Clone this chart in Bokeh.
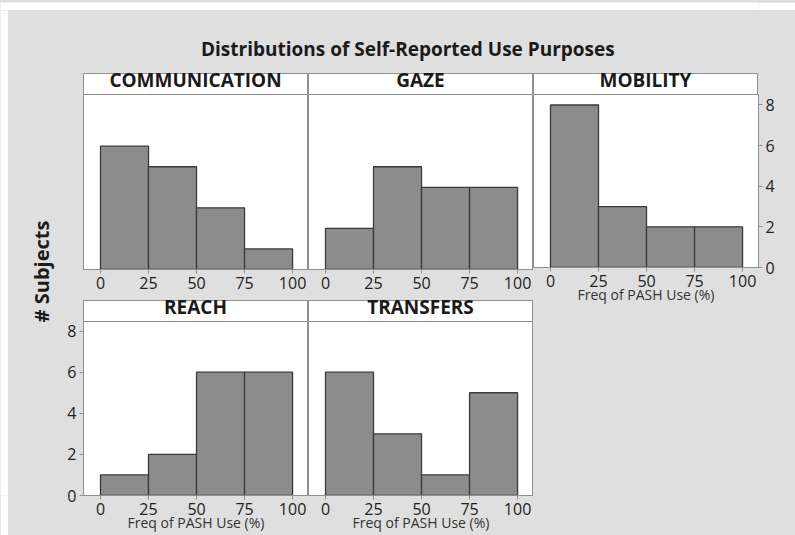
from bokeh.plotting import figure
from bokeh.models import Range1d, FixedTicker, Label, GridBox, Div
from bokeh.embed import file_html
from bokeh.resources import INLINE

# ---------------- data ----------------
bin_edges = [0, 25, 50, 75, 100]
x_ticks = [0, 25, 50, 75, 100]
y_ticks = [0, 2, 4, 6, 8]
panel_names = ["COMMUNICATION", "GAZE", "MOBILITY", "REACH", "TRANSFERS"]
communication = [6, 5, 3, 1]
gaze = [2, 5, 4, 4]
mobility = [8, 3, 2, 2]
reach = [1, 2, 6, 6]
transfers = [6, 3, 1, 5]
title_text = "Distributions of Self-Reported Use Purposes"
y_label = "# Subjects"
x_label = "Freq of PASH Use (%)"

# ---------------- style ----------------
BG = "#dfdfdf"
FRAME = "#8f8f8f"
BAR_FILL = "#8c8c8c"
BAR_LINE = "#3a3a3a"
TEXT = "#1a1a1a"
FONT = "Open Sans"

PX_Y = 20.55
X0, X1 = -8.85, 108.3
BASE_FIX = 7  # px correction for label baseline placement


def style_axis(ax, ticks):
    ax.ticker = FixedTicker(ticks=ticks)
    ax.axis_line_color = FRAME
    ax.major_tick_line_color = FRAME
    ax.minor_tick_line_color = None
    ax.major_tick_in = 0
    ax.major_tick_out = 4
    ax.major_label_text_font = FONT
    ax.major_label_text_font_size = "16px"
    ax.major_label_text_color = "#222222"


def blank(width, height, color=BG):
    b = figure(width=width, height=height, toolbar_location=None,
               output_backend="svg", title=None, x_axis_location=None,
               y_axis_location=None, min_border=0,
               x_range=Range1d(0, 1), y_range=Range1d(0, 1))
    b.grid.visible = False
    b.outline_line_color = None
    b.background_fill_color = color
    b.border_fill_color = color
    return b


def header(name):
    return Div(text=name, width=225, height=21, margin=0, styles={
        "background-color": "white",
        "border": f"1px solid {FRAME}",
        "border-bottom": "none",
        "box-sizing": "border-box",
        "font-family": "'Open Sans', sans-serif",
        "font-weight": "bold",
        "font-size": "19px",
        "line-height": "13px",
        "text-align": "center",
        "color": TEXT,
        "overflow": "visible",
        "white-space": "nowrap",
        "padding": "0",
        "margin": "0",
    })


def panel(counts, frame_h, width, height, left=0, right=0, bottom=0,
          yaxis=None, with_xlabel=False):
    ytop = frame_h / PX_Y
    p = figure(width=width, height=height, x_range=Range1d(X0, X1),
               y_range=Range1d(0, ytop), toolbar_location=None,
               output_backend="svg", title=None, y_axis_location=yaxis,
               min_border=0)
    p.min_border_left = left
    p.min_border_right = right
    p.min_border_top = 0
    p.min_border_bottom = bottom
    p.background_fill_color = "white"
    p.border_fill_color = BG
    p.outline_line_color = FRAME
    p.grid.visible = False
    for ax in p.xaxis:
        style_axis(ax, x_ticks)
        ax.major_label_standoff = 3
        if with_xlabel:
            ax.axis_label = x_label
            ax.axis_label_standoff = -5
            ax.axis_label_text_font = FONT
            ax.axis_label_text_font_size = "14px"
            ax.axis_label_text_font_style = "normal"
            ax.axis_label_text_color = "#333333"
    for ax in p.yaxis:
        style_axis(ax, y_ticks)
        ax.major_label_standoff = 3
    p.quad(left=bin_edges[:-1], right=bin_edges[1:], bottom=0, top=counts,
           fill_color=BAR_FILL, line_color=BAR_LINE, line_width=1.3)
    return p


# title
tf = figure(width=787, height=63, x_range=Range1d(0, 787), y_range=Range1d(0, 63),
            toolbar_location=None, output_backend="svg", title=None,
            x_axis_location=None, y_axis_location=None, min_border=0)
tf.grid.visible = False
tf.outline_line_color = None
tf.background_fill_color = BG
tf.border_fill_color = BG
tf.add_layout(Label(x=395, y=18 + BASE_FIX, text=title_text, text_align="center",
                    text_baseline="alphabetic", text_font=FONT,
                    text_font_style="bold", text_font_size="19px", text_color=TEXT))

# y label (as an axis label of a narrow figure)
yl = figure(width=47, height=396, x_range=Range1d(0, 1), y_range=Range1d(0, 1),
            toolbar_location=None, output_backend="svg", title=None,
            x_axis_location=None, y_axis_location="left", min_border=0)
yl.min_border_left = 46
yl.grid.visible = False
yl.outline_line_color = None
yl.background_fill_color = BG
yl.border_fill_color = BG
yl.yaxis.ticker = FixedTicker(ticks=[])
yl.yaxis.axis_line_color = None
yl.yaxis.major_tick_line_color = None
yl.yaxis.minor_tick_line_color = None
yl.yaxis.axis_label = y_label
yl.yaxis.axis_label_standoff = 0
yl.yaxis.axis_label_text_font = FONT
yl.yaxis.axis_label_text_font_size = "20px"
yl.yaxis.axis_label_text_font_style = "bold"
yl.yaxis.axis_label_text_color = TEXT

comm = panel(communication, 175, 225, 206, bottom=31)
gz = panel(gaze, 175, 225, 206, bottom=31)
mob = panel(mobility, 175, 262, 212, right=37, bottom=37,
            yaxis="right", with_xlabel=True)
rch = panel(reach, 174, 253, 214, left=28, bottom=40,
            yaxis="left", with_xlabel=True)
trf = panel(transfers, 174, 225, 214, bottom=40, with_xlabel=True)

children = [
    (blank(795, 10, "white"), 0, 0, 1, 7),
    (blank(8, 525, "white"), 1, 0, 7, 1),
    (tf, 1, 1, 1, 6),
    (yl, 2, 1, 5, 1),
    (blank(47, 66), 7, 1),
    (blank(28, 227), 2, 2, 2, 1),
    (header(panel_names[0]), 2, 3),
    (header(panel_names[1]), 2, 4),
    (header(panel_names[2]), 2, 5),
    (blank(37, 21), 2, 6),
    (comm, 3, 3),
    (gz, 3, 4),
    (mob, 3, 5, 2, 2),
    (blank(28, 21), 4, 2, 2, 1),
    (header(panel_names[3]), 4, 3, 2, 1),
    (header(panel_names[4]), 4, 4, 2, 1),
    (rch, 6, 2, 2, 2),
    (trf, 6, 4, 2, 1),
    (blank(262, 229), 5, 5, 3, 2),
]

grid = GridBox(children=children,
               rows=["10px", "63px", "21px", "206px", "6px", "15px", "148px", "66px"],
               cols=["8px", "47px", "28px", "225px", "225px", "225px", "37px"],
               spacing=0, width=795, height=535,
               styles={"background-color": BG})

open("out.html", "w").write(file_html(grid, INLINE))
